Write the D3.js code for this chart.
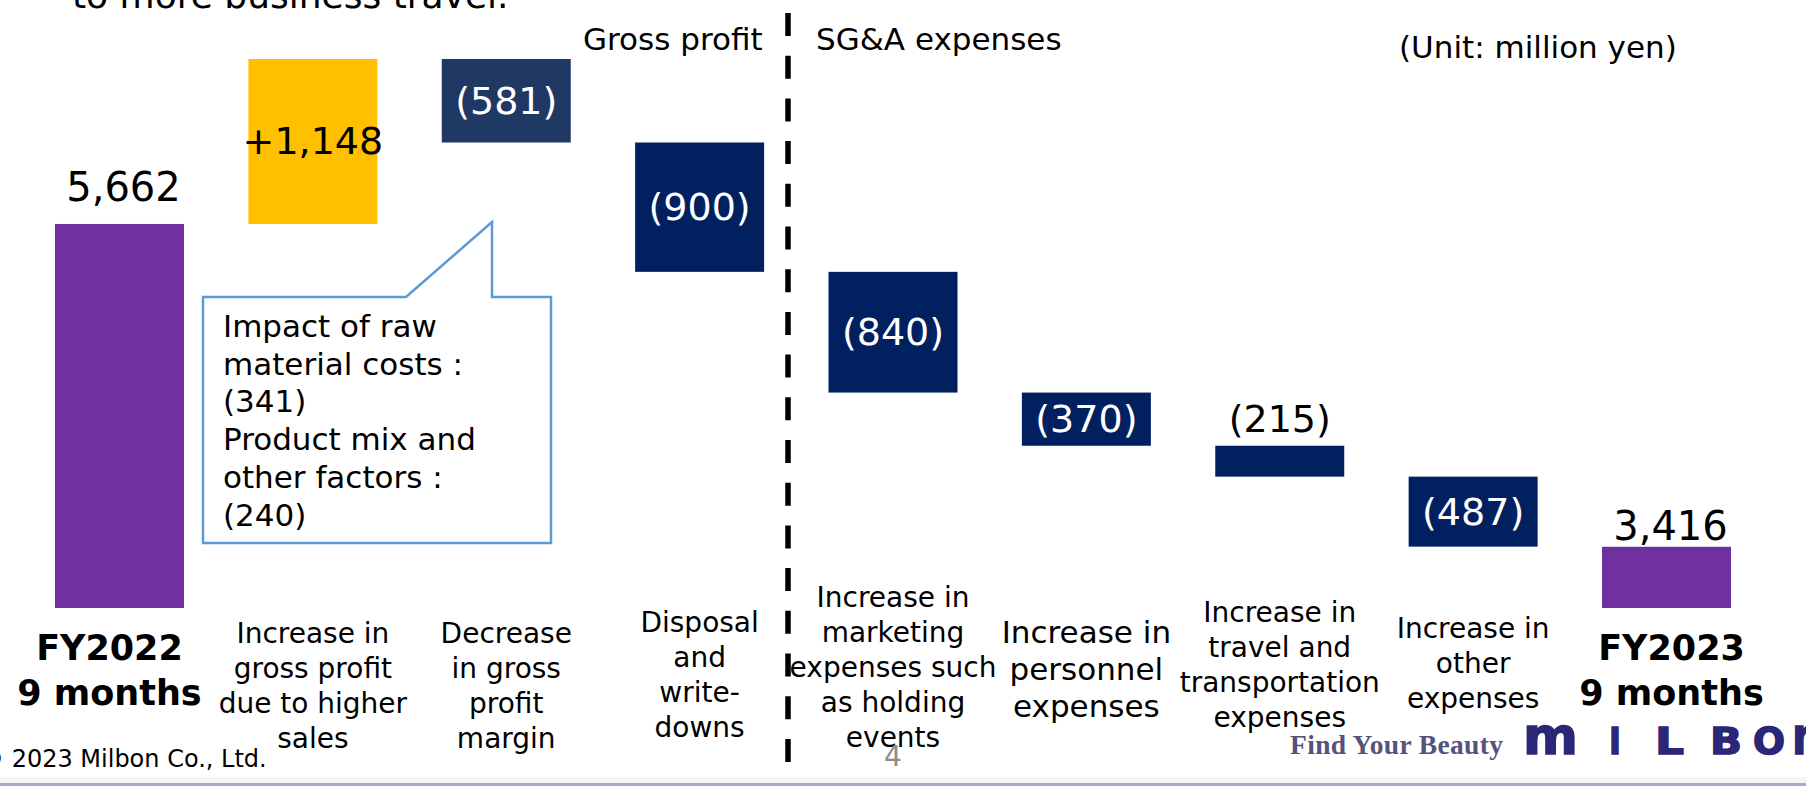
<!DOCTYPE html>
<html>
<head>
<meta charset="utf-8">
<script src="https://cdn.jsdelivr.net/npm/d3@7"></script>
<style>
  html, body { margin: 0; padding: 0; background: #fff; overflow: hidden; }
  svg { display: block; font-family: "DejaVu Sans", Verdana, sans-serif; }
</style>
</head>
<body>
<div id="wrap"></div>
<script>
// data
const categoryLines = [
  ["FY2022", "9 months"],
  ["Increase in", "gross profit", "due to higher", "sales"],
  ["Decrease", "in gross", "profit", "margin"],
  ["Disposal", "and", "write-", "downs"],
  ["Increase in", "marketing", "expenses such", "as holding", "events"],
  ["Increase in", "personnel", "expenses"],
  ["Increase in", "travel and", "transportation", "expenses"],
  ["Increase in", "other", "expenses"],
  ["FY2023", "9 months"]
];
const barTypes = ["total", "increase", "decrease", "decrease", "decrease", "decrease", "decrease", "decrease", "total"];
const values = [5662, 1148, -581, -900, -840, -370, -215, -487, 3416];
const valueLabels = ["5,662", "+1,148", "(581)", "(900)", "(840)", "(370)", "(215)", "(487)", "3,416"];
const calloutLines = ["Impact of raw", "material costs :", "(341)", "Product mix and", "other factors :", "(240)"];

waterfall();
function waterfall() {
  const WIDTH = 1806;
  const HEIGHT = 786;
  const BASE = 2990; // value at the bars' baseline (axis not from zero)

  const svg = d3.select('#wrap')
    .append('svg')
    .attr('width', WIDTH)
    .attr('height', HEIGHT)
    .style('background', '#FFFFFF');

  const keys = categoryLines.map(d => d.join(' '));

  // scales
  const x = d3.scaleBand()
    .domain(keys)
    .range([55, 1731])
    .paddingInner(0.333)
    .paddingOuter(0);
  const y = d3.scaleLinear()
    .domain([BASE, 6810])
    .range([608, 59]);

  // running totals
  let run = 0;
  const bars = values.map((v, i) => {
    let lo, hi;
    if (barTypes[i] === 'total') { lo = BASE; hi = v; run = v; }
    else { lo = Math.min(run, run + v); hi = Math.max(run, run + v); run += v; }
    return { key: keys[i], type: barTypes[i], lo: lo, hi: hi, label: valueLabels[i], i: i };
  });

  const color = d => d.type === 'total' ? '#7030A0'
    : d.type === 'increase' ? '#FFC000'
    : d.i === 2 ? '#203864' : '#002060';

  // top cut-off text
  svg.append('text')
    .attr('x', 72).attr('y', 8)
    .style('font-size', '36px').attr('fill', '#000')
    .text('to more business travel.');

  // dashed separator
  svg.append('line')
    .attr('x1', 788).attr('x2', 788)
    .attr('y1', 0).attr('y2', HEIGHT)
    .attr('stroke', '#000').attr('stroke-width', 5.5)
    .attr('stroke-dasharray', '23 19.7')
    .attr('stroke-dashoffset', 29.7);

  // section headings
  svg.append('text').attr('x', 583).attr('y', 50)
    .style('font-size', '31px').text('Gross profit');
  svg.append('text').attr('x', 816).attr('y', 50)
    .style('font-size', '31px').text('SG&A expenses');
  svg.append('text').attr('x', 1399).attr('y', 58)
    .style('font-size', '31px').text('(Unit: million yen)');

  // bars
  svg.append('g').selectAll('rect')
    .data(bars)
    .enter()
    .append('rect')
    .attr('x', d => x(d.key))
    .attr('y', d => y(d.hi))
    .attr('width', x.bandwidth())
    .attr('height', d => y(d.lo) - y(d.hi))
    .attr('fill', color);

  // value labels
  svg.append('g').selectAll('text')
    .data(bars)
    .enter()
    .append('text')
    .attr('text-anchor', 'middle')
    .style('font-size', d => d.type === 'total' ? '40px' : '38px')
    .attr('x', d => x(d.key) + x.bandwidth() / 2 + (d.type === 'total' ? 4 : 0))
    .attr('y', d => {
      if (d.type === 'total') return y(d.hi) - (d.i === 0 ? 23 : 7);
      if (y(d.lo) - y(d.hi) < 40) return y(d.hi) - 14;
      return (y(d.lo) + y(d.hi)) / 2 + 13;
    })
    .attr('fill', d => {
      if (d.type === 'decrease' && y(d.lo) - y(d.hi) >= 40) return '#FFFFFF';
      return '#000';
    })
    .text(d => d.label);

  // category labels
  const labelY = [660, 643, 643, 632, 607, 643, 622, 638, 660];
  const catG = svg.append('g');
  categoryLines.forEach((lines, i) => {
    const bold = barTypes[i] === 'total';
    const size = bold ? 35 : (i === 5 ? 31 : 28);
    const lh = bold ? 45 : (i === 5 ? 37 : 35);
    const t = catG.append('text')
      .attr('text-anchor', 'middle')
      .style('font-size', size + 'px')
      .style('font-weight', bold ? 'bold' : 'normal')
      .attr('fill', '#000');
    lines.forEach((ln, k) => {
      t.append('tspan')
        .attr('x', x(keys[i]) + x.bandwidth() / 2 - (bold ? 10 : 0) + (i === 8 ? 15 : 0))
        .attr('y', labelY[i] + k * lh)
        .text(ln);
    });
  });

  // callout
  svg.append('path')
    .attr('d', 'M203,297 H406 L492,222 L492,297 H551 V543 H203 Z')
    .attr('fill', '#fff')
    .attr('stroke', '#5B9BD5')
    .attr('stroke-width', 2.5);
  const ct = svg.append('text').style('font-size', '31px').attr('fill', '#000');
  calloutLines.forEach((ln, k) => {
    ct.append('tspan').attr('x', 223).attr('y', 337 + k * 37.7).text(ln);
  });

  // footer
  svg.append('rect').attr('x', 0).attr('y', 777).attr('width', WIDTH).attr('height', 6)
    .attr('fill', '#f6f3f9');
  svg.append('rect').attr('x', 0).attr('y', 783).attr('width', WIDTH).attr('height', 3)
    .attr('fill', '#b3a6d3');
  svg.append('text').attr('x', -20).attr('y', 767)
    .style('font-size', '24px').attr('fill', '#000')
    .text('© 2023 Milbon Co., Ltd.');
  svg.append('text').attr('x', 893).attr('y', 766).attr('text-anchor', 'middle')
    .style('font-size', '28px').attr('fill', '#8c8c8c').text('4');
  svg.append('text').attr('x', 1290).attr('y', 754)
    .attr('textLength', 213)
    .style('font-family', '"Liberation Serif", serif')
    .style('font-size', '27.5px').style('font-weight', 'bold')
    .attr('fill', '#55537a')
    .text('Find Your Beauty');
  // logo letters: [char, left x, width, font size]
  const logo = [['m', 1523, 55, 51], ['I', 1609, 12, 38], ['L', 1655, 29, 38],
                ['B', 1710, 32, 38], ['O', 1753, 32, 38], ['n', 1792, 30, 51]];
  svg.append('g').selectAll('text')
    .data(logo)
    .enter()
    .append('text')
    .attr('x', d => d[1]).attr('y', 754)
    .attr('textLength', d => d[2])
    .attr('lengthAdjust', 'spacingAndGlyphs')
    .style('font-size', d => d[3] + 'px')
    .style('font-weight', 'bold')
    .attr('fill', '#2b2676')
    .attr('stroke', '#2b2676')
    .attr('stroke-width', 1.5)
    .text(d => d[0]);
}
</script>
</body>
</html>
